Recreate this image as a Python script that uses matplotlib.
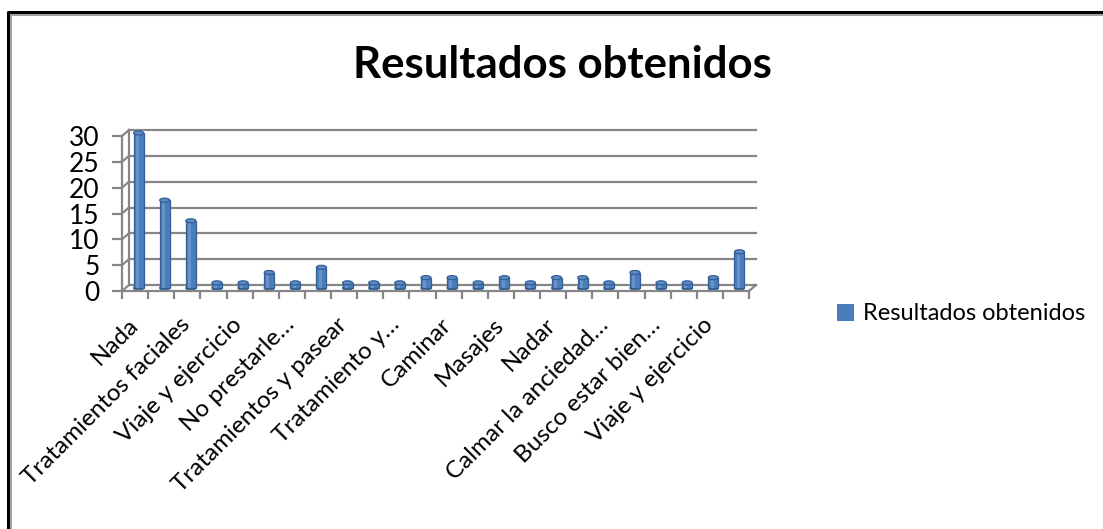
import matplotlib
matplotlib.use("Agg")
import matplotlib.pyplot as plt
import matplotlib.transforms as mtransforms
from matplotlib.lines import Line2D
from matplotlib.patches import Ellipse, Patch

plt.rcParams['font.family'] = ['Lato', 'DejaVu Sans']

# respuestas y número de personas
valores = [30, 17, 13, 1, 1, 3, 1, 4, 1, 1, 1, 2,
           2, 1, 2, 1, 2, 2, 1, 3, 1, 1, 2, 7]
etiquetas = ["Nada", "Tratamientos faciales", "Viaje y ejercicio",
             "No prestarle…", "Tratamientos y pasear", "Tratamiento y…",
             "Caminar", "Masajes", "Nadar", "Calmar la anciedad…",
             "Busco estar bien…", "Viaje y ejercicio"]
yticks = [0, 5, 10, 15, 20, 25, 30]
serie = "Resultados obtenidos"

W, H = 1103, 529
fig = plt.figure(figsize=(W / 100, H / 100), dpi=100)

# area de trazado en pixeles
x0, x1 = 122, 749
ybot, ytop = 291, 136
ax = fig.add_axes([x0 / W, (H - ybot) / H, (x1 - x0) / W, (ybot - ytop) / H])
n = len(valores)
ax.set_xlim(-0.5, n - 0.5)
ax.set_ylim(0, 30)

pxx = (x1 - x0) / n
pxy = (ybot - ytop) / 30
DX = 7 / pxx
DY = 6 / pxy

gris = "#868686"
lw = 1.6

for s in ["top", "right"]:
    ax.spines[s].set_visible(False)
for s in ["left", "bottom"]:
    ax.spines[s].set_color(gris)
    ax.spines[s].set_linewidth(lw)

# pared del fondo y pared lateral
for y in yticks:
    ax.plot([-0.5 + DX, n - 0.5 + DX], [y + DY, y + DY], color=gris, lw=lw, clip_on=False)
    ax.plot([-0.5, -0.5 + DX], [y, y + DY], color=gris, lw=lw, clip_on=False)
ax.plot([-0.5 + DX, -0.5 + DX], [DY, 30 + DY], color=gris, lw=lw, clip_on=False)
ax.plot([n - 0.5, n - 0.5 + DX], [0, DY], color=gris, lw=lw, clip_on=False)

# barras cilindricas
bw = 10 / pxx
eh = 4 / pxy
for i, v in enumerate(valores):
    cx = i + DX / 2
    base = DY / 2
    ax.bar(cx, v, bottom=base, width=bw, color="#4A7EBB", edgecolor="#345E94",
           linewidth=0.9, clip_on=False, zorder=3)
    ax.bar(cx - bw * 0.12, v, bottom=base, width=bw * 0.3, color="#6892C8",
           linewidth=0, clip_on=False, zorder=3)
    ax.add_patch(Ellipse((cx, base), bw, eh, facecolor="#4A7EBB",
                         edgecolor="#345E94", lw=0.9, zorder=2, clip_on=False))
    ax.add_patch(Ellipse((cx, base + v), bw, eh, facecolor="#5C8BC6",
                         edgecolor="#345E94", lw=0.9, zorder=4, clip_on=False))

ax.set_yticks(yticks)
ax.set_yticklabels([str(t) for t in yticks], fontsize=19)
ax.tick_params(axis="y", length=7, width=lw, color=gris, pad=9)

ax.set_xticks([k - 0.5 for k in range(n + 1)], minor=True)
ax.tick_params(axis="x", which="minor", length=6, width=lw, color=gris)
ax.set_xticks(list(range(0, n, 2)))
ax.set_xticklabels(etiquetas, rotation=45, ha="right", va="top",
                   rotation_mode="anchor", fontsize=17.5)
ax.tick_params(axis="x", which="major", length=0, pad=15)
desplaza = mtransforms.ScaledTranslation(-8 / 100, -2 / 100, fig.dpi_scale_trans)
for lab in ax.get_xticklabels():
    lab.set_transform(lab.get_transform() + desplaza)

fig.text(562 / W, 1 - 65 / H, serie, ha="center", va="center",
         fontsize=31.5, fontweight="bold")

ax.legend(handles=[Patch(facecolor="#4A7EBB", label=serie)],
          loc="center left", bbox_to_anchor=(816 / W, 1 - 314 / H),
          bbox_transform=fig.transFigure, frameon=False, fontsize=17,
          handlelength=0.7, handleheight=0.7, handletextpad=0.4)

# marco del grafico
fig.add_artist(Line2D([8 / W, 8 / W, 1], [0, 1 - 12 / H, 1 - 12 / H],
                      color="black", lw=2.2))
fig.add_artist(Line2D([11 / W, 11 / W, 1], [0, 1 - 15 / H, 1 - 15 / H],
                      color="#a0a0a0", lw=1.5))

fig.savefig("out.png", dpi=100)
